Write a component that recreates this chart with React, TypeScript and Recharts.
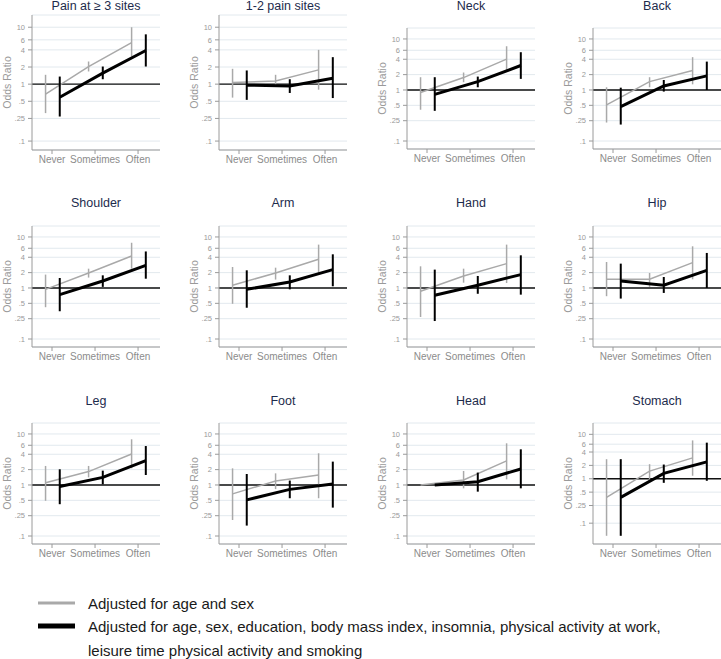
import React from 'react';
import { LineChart, Line, XAxis, YAxis, CartesianGrid, ReferenceLine, ErrorBar } from 'recharts';

// ---------- data ----------
const categories = ['Never', 'Sometimes', 'Often'];
const yTicks = [0.1, 0.25, 0.5, 1, 2, 4, 6, 10];
const yTickLabels = ['.1', '.25', '.5', '1', '2', '4', '6', '10'];
const seriesNames = [
  'Adjusted for age and sex',
  'Adjusted for age, sex, education, body mass index, insomnia, physical activity at work,',
  'leisure time physical activity and smoking',
];

// each row: [odds ratio, lower CI, upper CI] for Never, Sometimes, Often
const painGe3AgeSex = [[0.67, 0.31, 1.46], [2.04, 1.67, 2.5], [5.38, 3.06, 10]];
const painGe3Full = [[0.59, 0.27, 1.36], [1.56, 1.22, 2.04], [3.9, 2.04, 7.5]];
const pain12AgeSex = [[1.07, 0.58, 1.86], [1.14, 0.97, 1.46], [1.78, 0.8, 4.0]];
const pain12Full = [[0.96, 0.53, 1.74], [0.93, 0.7, 1.22], [1.27, 0.57, 2.98]];
const neckAgeSex = [[0.89, 0.41, 1.78], [1.75, 1.42, 2.2], [4.03, 2.37, 7.2]];
const neckFull = [[0.82, 0.39, 1.78], [1.46, 1.13, 1.83], [3.02, 1.65, 5.5]];
const backAgeSex = [[0.51, 0.23, 1.13], [1.46, 1.13, 1.78], [2.41, 1.29, 4.4]];
const backFull = [[0.47, 0.21, 1.11], [1.2, 0.93, 1.57], [1.89, 1.0, 3.6]];
const shoulderAgeSex = [[0.94, 0.42, 1.83], [1.97, 1.6, 2.39], [4.24, 2.39, 7.7]];
const shoulderFull = [[0.74, 0.35, 1.57], [1.37, 1.05, 1.77], [2.78, 1.52, 5.2]];
const armAgeSex = [[1.13, 0.49, 2.58], [1.97, 1.46, 2.5], [3.65, 1.97, 7.08]];
const armFull = [[0.94, 0.41, 2.22], [1.31, 0.94, 1.77], [2.29, 1.08, 4.57]];
const handAgeSex = [[0.86, 0.27, 2.66], [1.72, 1.27, 2.39], [3.0, 1.25, 7.08]];
const handFull = [[0.72, 0.225, 2.29], [1.13, 0.77, 1.72], [1.83, 0.74, 4.37]];
const hipAgeSex = [[1.48, 0.69, 3.23], [1.48, 1.05, 1.97], [3.14, 1.48, 6.56]];
const hipFull = [[1.37, 0.62, 3.0], [1.13, 0.8, 1.64], [2.22, 1.0, 4.86]];
const legAgeSex = [[1.11, 0.49, 2.36], [1.83, 1.41, 2.36], [4.05, 2.12, 7.86]];
const legFull = [[0.93, 0.42, 2.03], [1.41, 1.03, 1.91], [3.0, 1.57, 5.8]];
const footAgeSex = [[0.67, 0.206, 2.12], [1.2, 0.83, 1.69], [1.57, 0.55, 4.18]];
const footFull = [[0.51, 0.16, 1.64], [0.82, 0.55, 1.22], [1.05, 0.36, 2.87]];
const headAgeSex = [[1.0, 1.0, 1.0], [1.25, 0.86, 1.88], [2.96, 1.29, 6.56]];
const headFull = [[1.0, 1.0, 1.0], [1.16, 0.74, 1.75], [2.06, 0.86, 5.0]];
const stomachAgeSex = [[0.38, 0.052, 2.76], [1.49, 0.97, 2.13], [2.95, 1.17, 7.3]];
const stomachFull = [[0.38, 0.052, 2.76], [1.32, 0.81, 2.09], [2.4, 0.9, 6.5]];

const panelTitles = ['Pain at \u2265 3 sites', '1-2 pain sites', 'Neck', 'Back', 'Shoulder', 'Arm', 'Hand', 'Hip', 'Leg', 'Foot', 'Head', 'Stomach'];
const panelAgeSex = [painGe3AgeSex, pain12AgeSex, neckAgeSex, backAgeSex, shoulderAgeSex, armAgeSex, handAgeSex, hipAgeSex, legAgeSex, footAgeSex, headAgeSex, stomachAgeSex];
const panelFull = [painGe3Full, pain12Full, neckFull, backFull, shoulderFull, armFull, handFull, hipFull, legFull, footFull, headFull, stomachFull];

// ---------- layout ----------
const colAxisX = [32, 219, 407, 593];
const PLOT_W = 128;
const Y_AXIS_W = 40;
const TOP_PAD = 5;
const X_AXIS_H = 30;
const DEFAULT_DOMAIN: [number, number] = [0.0697, 16.4];
const STOMACH_DOMAIN: [number, number] = [0.034, 18];

type Geo = { axisX: number; top: number; bottom: number; titleY: number; domain: [number, number] };
const geometry: Geo[] = panelTitles.map((_, i) => {
  const row = Math.floor(i / 4);
  const col = i % 4;
  let top = 0, bottom = 0, titleY = 0;
  if (row === 0) {
    titleY = 6;
    if (col < 2) { top = 15; bottom = 150; } else { top = 28; bottom = 149; }
  } else if (row === 1) { top = 226; bottom = 347; titleY = 203; }
  else { top = 423; bottom = 544; titleY = 401; }
  return { axisX: colAxisX[col], top, bottom, titleY, domain: i === 11 ? STOMACH_DOMAIN : DEFAULT_DOMAIN };
});

const GRAY = '#a9a9a9';
const FONT = '"Liberation Sans", Arial, sans-serif';

function toSeries(rows: number[][], offset: number) {
  return rows.map(([or, lo, hi], i) => ({ x: i + offset, or, err: [or - lo, hi - or] }));
}

function Panel({ idx }: { idx: number }) {
  const g = geometry[idx];
  const plotH = g.bottom - g.top;
  const grayData = toSeries(panelAgeSex[idx], -0.15);
  const blackData = toSeries(panelFull[idx], 0.18);
  return (
    <div style={{ position: 'absolute', left: g.axisX - Y_AXIS_W, top: g.top - TOP_PAD }}>
      <LineChart
        width={Y_AXIS_W + PLOT_W}
        height={TOP_PAD + plotH + X_AXIS_H}
        margin={{ top: TOP_PAD, right: 0, bottom: 0, left: 0 }}
      >
        <CartesianGrid vertical={false} stroke="#e2e9ee" strokeWidth={1} />
        <XAxis
          type="number"
          dataKey="x"
          domain={[-0.465, 2.51]}
          ticks={[0, 1, 2]}
          allowDataOverflow
          tickFormatter={(v: number) => categories[v]}
          height={X_AXIS_H}
          tickSize={4}
          tickMargin={2}
          stroke="#9a9a9a"
          tick={{ fontSize: 10, fill: '#8c8c8c', fontFamily: FONT }}
          interval={0}
        />
        <YAxis
          type="number"
          scale="log"
          domain={g.domain}
          allowDataOverflow
          ticks={yTicks}
          tickFormatter={(v: number) => yTickLabels[yTicks.indexOf(v)]}
          width={Y_AXIS_W}
          tickSize={4}
          tickMargin={3}
          stroke="#9a9a9a"
          tick={{ fontSize: 7.5, fill: '#999999', fontFamily: FONT }}
          interval={0}
        />
        <ReferenceLine y={1} stroke="#111" strokeWidth={1.3} ifOverflow="visible" />
        <Line
          data={grayData}
          dataKey="or"
          stroke={GRAY}
          strokeWidth={1.5}
          dot={false}
          isAnimationActive={false}
          type="linear"
        >
          <ErrorBar dataKey="err" width={0} stroke={GRAY} strokeWidth={1.5} direction="y" />
        </Line>
        <Line
          data={blackData}
          dataKey="or"
          stroke="#000"
          strokeWidth={3}
          dot={false}
          isAnimationActive={false}
          type="linear"
        >
          <ErrorBar dataKey="err" width={0} stroke="#000" strokeWidth={2} direction="y" />
        </Line>
      </LineChart>
    </div>
  );
}

export default function App() {
  return (
    <div style={{ position: 'absolute', left: 0, top: 0, width: 721, height: 659, background: '#fff', overflow: 'hidden' }}>
      {panelTitles.map((_, i) => <Panel key={i} idx={i} />)}
      <svg width={721} height={659} style={{ position: 'absolute', left: 0, top: 0, pointerEvents: 'none' }}>
        {panelTitles.map((t, i) => {
          const g = geometry[i];
          const lx = g.axisX - 25.5;
          const ly = (g.top + g.bottom) / 2;
          return (
            <g key={i}>
              <text x={g.axisX + PLOT_W / 2} y={g.titleY} textAnchor="middle" dominantBaseline="central"
                fontSize={12.5} fill="#1d2b4c" fontFamily={FONT}>{t}</text>
              <text x={lx} y={ly} textAnchor="middle" dominantBaseline="central"
                fontSize={10.5} fill="#9a9a9a" fontFamily={FONT}
                transform={`rotate(-90 ${lx} ${ly})`}>Odds Ratio</text>
            </g>
          );
        })}
        <line x1={38} x2={75} y1={603} y2={603} stroke={GRAY} strokeWidth={3} />
        <text x={88} y={603} dominantBaseline="central" fontSize={15} fill="#1a1a1a" fontFamily={FONT}>{seriesNames[0]}</text>
        <line x1={38} x2={75} y1={626} y2={626} stroke="#000" strokeWidth={5} />
        <text x={88} y={626} dominantBaseline="central" fontSize={15} fill="#1a1a1a" fontFamily={FONT}>{seriesNames[1]}</text>
        <text x={88} y={650} dominantBaseline="central" fontSize={15} fill="#1a1a1a" fontFamily={FONT}>{seriesNames[2]}</text>
      </svg>
    </div>
  );
}
